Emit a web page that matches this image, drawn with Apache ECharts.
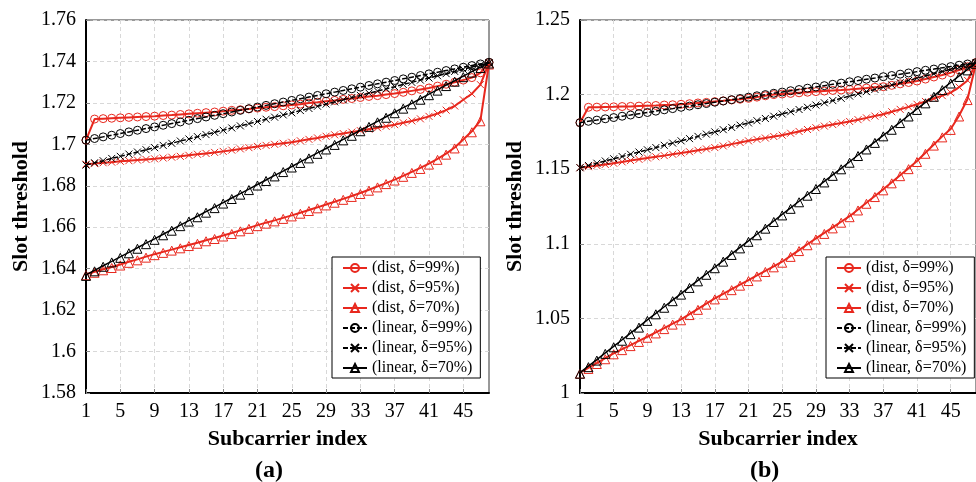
<!DOCTYPE html>
<html><head><meta charset="utf-8">
<script src="https://cdn.jsdelivr.net/npm/echarts@6/dist/echarts.min.js"></script>
<style>html,body{margin:0;padding:0;background:#fff}#c{width:976px;height:482px}</style>
</head><body><div id="c"></div>
<script>
const subcarriers = [1,2,3,4,5,6,7,8,9,10,11,12,13,14,15,16,17,18,19,20,21,22,23,24,25,26,27,28,29,30,31,32,33,34,35,36,37,38,39,40,41,42,43,44,45,46,47,48];
const seriesNames = ['(dist, \u03b4=99%)','(dist, \u03b4=95%)','(dist, \u03b4=70%)','(linear, \u03b4=99%)','(linear, \u03b4=95%)','(linear, \u03b4=70%)'];
const panelLabels = ['(a)','(b)'];
const xTitle = 'Subcarrier index';
const yTitle = 'Slot threshold';

// Panel (a)
const aDist99 = [1.7020,1.7122,1.7124,1.7126,1.7128,1.7130,1.7132,1.7134,1.7136,1.7139,1.7141,1.7144,1.7147,1.7150,1.7153,1.7156,1.7160,1.7164,1.7167,1.7171,1.7175,1.7179,1.7182,1.7186,1.7190,1.7194,1.7199,1.7203,1.7208,1.7212,1.7217,1.7221,1.7226,1.7231,1.7235,1.7240,1.7245,1.7251,1.7258,1.7265,1.7272,1.7281,1.7290,1.7300,1.7310,1.7322,1.7345,1.7395];
const aDist95 = [1.6904,1.6907,1.6911,1.6914,1.6918,1.6921,1.6924,1.6927,1.6930,1.6934,1.6938,1.6942,1.6947,1.6952,1.6956,1.6961,1.6966,1.6972,1.6978,1.6984,1.6990,1.6995,1.7000,1.7005,1.7010,1.7017,1.7024,1.7031,1.7039,1.7046,1.7052,1.7059,1.7066,1.7073,1.7080,1.7087,1.7095,1.7104,1.7113,1.7123,1.7135,1.7149,1.7165,1.7185,1.7215,1.7244,1.7288,1.7392];
const aDist70 = [1.6373,1.6385,1.6397,1.6408,1.6420,1.6433,1.6445,1.6458,1.6470,1.6481,1.6492,1.6503,1.6514,1.6525,1.6537,1.6548,1.6560,1.6572,1.6585,1.6597,1.6610,1.6622,1.6633,1.6645,1.6657,1.6670,1.6683,1.6696,1.6710,1.6723,1.6737,1.6751,1.6765,1.6781,1.6797,1.6813,1.6830,1.6848,1.6867,1.6886,1.6907,1.6930,1.6955,1.6985,1.7023,1.7063,1.7116,1.7390];
const aLin99 = [1.7020,1.7028,1.7036,1.7044,1.7052,1.7060,1.7068,1.7076,1.7084,1.7092,1.7100,1.7108,1.7116,1.7124,1.7132,1.7140,1.7148,1.7156,1.7164,1.7172,1.7180,1.7188,1.7196,1.7204,1.7212,1.7220,1.7228,1.7236,1.7244,1.7252,1.7260,1.7268,1.7276,1.7284,1.7292,1.7300,1.7308,1.7316,1.7324,1.7332,1.7340,1.7348,1.7356,1.7364,1.7372,1.7380,1.7388,1.7396];
const aLin95 = [1.6900,1.6911,1.6921,1.6932,1.6942,1.6953,1.6963,1.6974,1.6984,1.6995,1.7005,1.7016,1.7026,1.7037,1.7047,1.7058,1.7068,1.7079,1.7089,1.7100,1.7110,1.7121,1.7131,1.7142,1.7152,1.7163,1.7173,1.7184,1.7194,1.7205,1.7215,1.7226,1.7236,1.7247,1.7257,1.7268,1.7278,1.7289,1.7299,1.7310,1.7320,1.7331,1.7341,1.7352,1.7362,1.7373,1.7383,1.7394];
const aLin70 = [1.6370,1.6392,1.6414,1.6435,1.6457,1.6479,1.6501,1.6523,1.6544,1.6566,1.6588,1.6610,1.6632,1.6653,1.6675,1.6697,1.6719,1.6741,1.6762,1.6784,1.6806,1.6828,1.6850,1.6871,1.6893,1.6915,1.6937,1.6959,1.6980,1.7002,1.7024,1.7046,1.7068,1.7089,1.7111,1.7133,1.7155,1.7177,1.7198,1.7220,1.7242,1.7264,1.7286,1.7307,1.7329,1.7351,1.7373,1.7395];

// Panel (b)
const bDist99 = [1.1812,1.1915,1.1916,1.1917,1.1918,1.1920,1.1921,1.1923,1.1925,1.1927,1.1930,1.1932,1.1935,1.1939,1.1944,1.1948,1.1953,1.1958,1.1964,1.1969,1.1975,1.1983,1.1992,1.2000,1.2004,1.2008,1.2012,1.2016,1.2020,1.2024,1.2028,1.2031,1.2035,1.2040,1.2044,1.2049,1.2053,1.2062,1.2072,1.2081,1.2091,1.2104,1.2118,1.2131,1.2147,1.2165,1.2187,1.2215];
const bDist95 = [1.1510,1.1517,1.1525,1.1532,1.1540,1.1549,1.1558,1.1566,1.1575,1.1583,1.1591,1.1600,1.1608,1.1617,1.1627,1.1636,1.1645,1.1656,1.1668,1.1679,1.1690,1.1700,1.1709,1.1719,1.1728,1.1741,1.1753,1.1766,1.1778,1.1789,1.1799,1.1810,1.1820,1.1832,1.1844,1.1856,1.1868,1.1885,1.1901,1.1918,1.1935,1.1954,1.1974,1.1993,1.2013,1.2050,1.2095,1.2210];
const bDist70 = [1.0136,1.0168,1.0201,1.0233,1.0266,1.0294,1.0321,1.0349,1.0377,1.0406,1.0435,1.0465,1.0494,1.0529,1.0564,1.0599,1.0634,1.0665,1.0696,1.0726,1.0757,1.0788,1.0818,1.0849,1.0880,1.0919,1.0958,1.0997,1.1036,1.1073,1.1110,1.1148,1.1185,1.1230,1.1275,1.1320,1.1365,1.1412,1.1460,1.1507,1.1555,1.1610,1.1665,1.1720,1.1770,1.1860,1.1970,1.2210];
const bLin99 = [1.1812,1.1821,1.1829,1.1838,1.1846,1.1855,1.1863,1.1872,1.1880,1.1889,1.1898,1.1906,1.1915,1.1923,1.1932,1.1940,1.1949,1.1957,1.1966,1.1974,1.1983,1.1992,1.2000,1.2009,1.2017,1.2026,1.2034,1.2043,1.2051,1.2060,1.2069,1.2077,1.2086,1.2094,1.2103,1.2111,1.2120,1.2128,1.2137,1.2145,1.2154,1.2163,1.2171,1.2180,1.2188,1.2197,1.2205,1.2214];
const bLin95 = [1.1510,1.1525,1.1540,1.1555,1.1570,1.1585,1.1600,1.1615,1.1630,1.1645,1.1660,1.1675,1.1690,1.1705,1.1720,1.1735,1.1750,1.1765,1.1780,1.1795,1.1810,1.1825,1.1840,1.1855,1.1870,1.1885,1.1900,1.1915,1.1930,1.1945,1.1960,1.1975,1.1990,1.2005,1.2020,1.2035,1.2050,1.2065,1.2080,1.2095,1.2110,1.2125,1.2140,1.2155,1.2170,1.2185,1.2200,1.2215];
const bLin70 = [1.0136,1.0180,1.0224,1.0269,1.0313,1.0357,1.0401,1.0445,1.0490,1.0534,1.0578,1.0622,1.0666,1.0711,1.0755,1.0799,1.0843,1.0887,1.0932,1.0976,1.1020,1.1064,1.1108,1.1153,1.1197,1.1241,1.1285,1.1329,1.1374,1.1418,1.1462,1.1506,1.1550,1.1595,1.1639,1.1683,1.1727,1.1771,1.1816,1.1860,1.1904,1.1948,1.1992,1.2037,1.2081,1.2125,1.2169,1.2213];

const yRangeA = {min: 1.58, max: 1.76, interval: 0.02};
const yRangeB = {min: 1.00, max: 1.25, interval: 0.05};

const RED = '#e8281e', BLACK = '#000000';
const FONT = '"Liberation Serif", "Times New Roman", serif';
const XMARK = 'path://M0,0L10,10M10,0L0,10';

const styles = [
  {color: RED, symbol: 'circle', size: 8, dash: 'solid', width: 2},
  {color: RED, symbol: XMARK, size: 7, dash: 'solid', width: 2},
  {color: RED, symbol: 'triangle', size: 9, dash: 'solid', width: 2},
  {color: BLACK, symbol: 'circle', size: 8, dash: [5, 2], width: 1.5},
  {color: BLACK, symbol: XMARK, size: 7, dash: [5, 2], width: 1.5},
  {color: BLACK, symbol: 'triangle', size: 9, dash: 'solid', width: 1.5}
];

function mk(idx, data, gi) {
  const s = styles[idx];
  return {
    name: seriesNames[idx], type: 'line', xAxisIndex: gi, yAxisIndex: gi,
    data: data, symbol: s.symbol, symbolSize: s.size, showSymbol: true, showAllSymbol: true,
    symbolOffset: s.symbol === 'triangle' ? [0, 1] : [0, 0],
    lineStyle: {color: s.color, width: s.width, type: s.dash},
    itemStyle: {color: 'rgba(0,0,0,0)', borderColor: s.color, borderWidth: 1},
    emphasis: {disabled: true}, animation: false, z: idx >= 3 ? 3 : 2
  };
}

function xAx(gi) {
  return {
    type: 'category', gridIndex: gi, data: subcarriers, boundaryGap: false,
    name: xTitle, nameLocation: 'middle', nameGap: 35,
    nameTextStyle: {fontFamily: FONT, fontSize: 22, fontWeight: 'bold', color: '#000'},
    axisLine: {lineStyle: {color: '#000', width: 2}},
    axisTick: {show: true, inside: true, length: 4, interval: 3, lineStyle: {color: '#888'}},
    axisLabel: {interval: 3, fontFamily: FONT, fontSize: 20, color: '#000', margin: 9},
    splitLine: {show: true, interval: 3, lineStyle: {color: '#d8d8d8', type: [4, 3], width: 1}}
  };
}
function yAx(gi, r) {
  return {
    type: 'value', gridIndex: gi, min: r.min, max: r.max, interval: r.interval,
    name: yTitle, nameLocation: 'middle', nameGap: 54,
    nameTextStyle: {fontFamily: FONT, fontSize: 22, fontWeight: 'bold', color: '#000'},
    axisLine: {show: true, lineStyle: {color: '#000', width: 2}},
    axisTick: {show: true, inside: true, length: 4, lineStyle: {color: '#888'}},
    axisLabel: {fontFamily: FONT, fontSize: 20, color: '#000', margin: 10},
    splitLine: {show: true, lineStyle: {color: '#d8d8d8', type: [4, 3], width: 1}}
  };
}
function leg(left) {
  return {
    show: true, orient: 'vertical', left: left, top: 257,
    data: seriesNames, itemWidth: 24, itemHeight: 10, itemGap: 4,
    padding: [3, 8, 2, 10], backgroundColor: '#fff', borderColor: '#000', borderWidth: 1,
    textStyle: {fontFamily: FONT, fontSize: 16, color: '#000', lineHeight: 16},
    selectedMode: false
  };
}

const chart = echarts.init(document.getElementById('c'), null, {renderer: 'canvas'});
chart.setOption({
  animation: false,
  backgroundColor: '#fff',
  textStyle: {fontFamily: FONT},
  grid: [
    {left: 86, top: 20, width: 403, height: 373, show: true, borderColor: '#333', borderWidth: 1, backgroundColor: 'transparent'},
    {left: 580, top: 20, width: 404, height: 373, show: true, borderColor: '#333', borderWidth: 1, backgroundColor: 'transparent'}
  ],
  xAxis: [xAx(0), xAx(1)],
  yAxis: [yAx(0, yRangeA), yAx(1, yRangeB)],
  legend: [leg(332), leg(826)],
  series: [
    mk(0, aDist99, 0), mk(1, aDist95, 0), mk(2, aDist70, 0),
    mk(3, aLin99, 0), mk(4, aLin95, 0), mk(5, aLin70, 0),
    mk(0, bDist99, 1), mk(1, bDist95, 1), mk(2, bDist70, 1),
    mk(3, bLin99, 1), mk(4, bLin95, 1), mk(5, bLin70, 1)
  ],
  graphic: [
    {type: 'text', left: 255, top: 459, style: {text: panelLabels[0], fontFamily: FONT, fontSize: 24, fontWeight: 'bold', fill: '#000'}},
    {type: 'text', left: 750, top: 459, style: {text: panelLabels[1], fontFamily: FONT, fontSize: 24, fontWeight: 'bold', fill: '#000'}}
  ]
});
</script></body></html>
